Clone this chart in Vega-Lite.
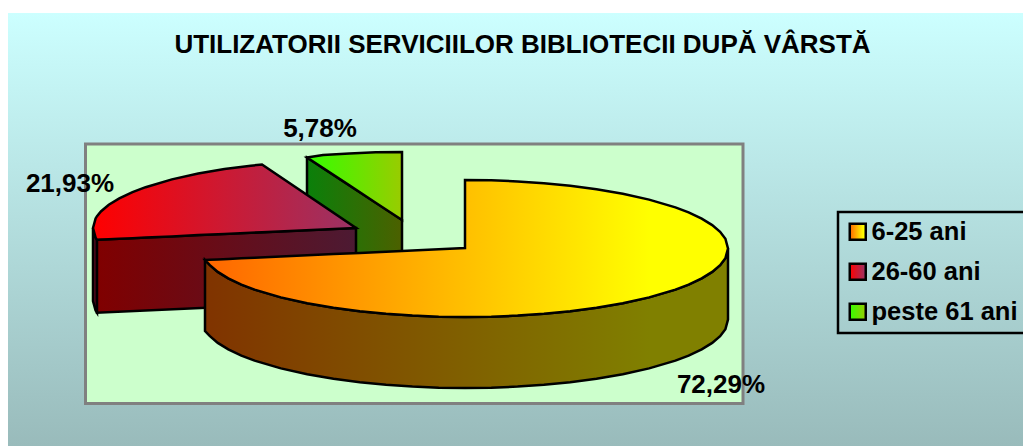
{
"$schema":"https://vega.github.io/schema/vega-lite/v6.json",
"width":1015,"height":433,"autosize":"none","padding":{"left":8,"top":13,"right":0,"bottom":0},
"background":"white",
"title":{"text":"UTILIZATORII SERVICIILOR BIBLIOTECII DUPĂ VÂRSTĂ","font":"Liberation Sans","fontWeight":"bold","fontSize":26,"color":"black","anchor":"middle","frame":"group","offset":-45,"dx":7},
"config":{"view":{"stroke":null,"fill":{"gradient":"linear","x1":0,"y1":0,"x2":0,"y2":1,"stops":[{"offset":0,"color":"#CCFFFF"},{"offset":1,"color":"#99BBBB"}]}},
"legend":{"strokeColor":"black","strokeWidth":2.5,"padding":7}},
"datasets":{
"panel":[{"x":85.5,"x2":743,"y":144,"y2":403.5}],
"slices":[{"slice":"6-25 ani","share":72.29,"label":"72,29%","lx":721,"ly":385},{"slice":"26-60 ani","share":21.93,"label":"21,93%","lx":70,"ly":184},{"slice":"peste 61 ani","share":5.78,"label":"5,78%","lx":320,"ly":129}],
"greenSide":[{"x":307,"y":157.5,"y2":230.5},{"x":402,"y":220,"y2":293}],
"greenTop":[{"slice":"peste 61 ani","x":307,"y":157.5,"y2":157.5},{"slice":"peste 61 ani","x":323.1,"y":155,"y2":168.1},{"slice":"peste 61 ani","x":349.4,"y":153.4,"y2":185.4},{"slice":"peste 61 ani","x":375.7,"y":152.3,"y2":202.7},{"slice":"peste 61 ani","x":402,"y":152,"y2":220}],
"redLeft":[{"x":93,"y":228,"y2":301},{"x":95.6,"y":237.6,"y2":310.6},{"x":97,"y":239.8,"y2":312.8}],
"redCut":[{"x":97,"y":239.8,"y2":312.8},{"x":356,"y":228,"y2":301}],
"redTop":[{"slice":"26-60 ani","x":93,"y":228,"y2":228},{"slice":"26-60 ani","x":95.6,"y":218.4,"y2":237.6},{"slice":"26-60 ani","x":97,"y":216.2,"y2":239.8},{"slice":"26-60 ani","x":100.9,"y":211.5,"y2":239.6},{"slice":"26-60 ani","x":108.8,"y":204.8,"y2":239.3},{"slice":"26-60 ani","x":119.3,"y":198.4,"y2":238.8},{"slice":"26-60 ani","x":132.5,"y":192.2,"y2":238.2},{"slice":"26-60 ani","x":145.6,"y":187.2,"y2":237.6},{"slice":"26-60 ani","x":171.9,"y":179.4,"y2":236.4},{"slice":"26-60 ani","x":198.2,"y":173.6,"y2":235.1},{"slice":"26-60 ani","x":224.5,"y":169.1,"y2":233.9},{"slice":"26-60 ani","x":250.8,"y":165.7,"y2":232.7},{"slice":"26-60 ani","x":262,"y":164.5,"y2":232.2},{"slice":"26-60 ani","x":356,"y":228,"y2":228}],
"mainSide":[{"x":205,"y":260,"y2":331},{"x":209.9,"y":265.2,"y2":336.2},{"x":217.8,"y":271.9,"y2":342.9},{"x":228.3,"y":278.4,"y2":349.4},{"x":241.4,"y":284.6,"y2":355.6},{"x":254.6,"y":289.6,"y2":360.6},{"x":280.9,"y":297.4,"y2":368.4},{"x":307.2,"y":303.3,"y2":374.3},{"x":333.5,"y":307.8,"y2":378.8},{"x":359.8,"y":311.3,"y2":382.3},{"x":386.1,"y":313.8,"y2":384.8},{"x":412.4,"y":315.6,"y2":386.6},{"x":438.7,"y":316.7,"y2":387.7},{"x":465,"y":317,"y2":388},{"x":491.3,"y":316.7,"y2":387.7},{"x":517.6,"y":315.6,"y2":386.6},{"x":543.9,"y":313.8,"y2":384.8},{"x":570.2,"y":311.3,"y2":382.3},{"x":596.5,"y":307.8,"y2":378.8},{"x":622.8,"y":303.3,"y2":374.3},{"x":649.1,"y":297.4,"y2":368.4},{"x":675.4,"y":289.6,"y2":360.6},{"x":688.6,"y":284.6,"y2":355.6},{"x":701.7,"y":278.4,"y2":349.4},{"x":712.2,"y":271.9,"y2":342.9},{"x":720.1,"y":265.2,"y2":336.2},{"x":725.4,"y":258.2,"y2":329.2},{"x":728,"y":248.5,"y2":319.5}],
"mainTop":[{"slice":"6-25 ani","x":205,"y":260,"y2":260},{"slice":"6-25 ani","x":209.9,"y":259.8,"y2":265.2},{"slice":"6-25 ani","x":217.8,"y":259.4,"y2":271.9},{"slice":"6-25 ani","x":228.3,"y":258.9,"y2":278.4},{"slice":"6-25 ani","x":241.4,"y":258.3,"y2":284.6},{"slice":"6-25 ani","x":254.6,"y":257.7,"y2":289.6},{"slice":"6-25 ani","x":280.9,"y":256.5,"y2":297.4},{"slice":"6-25 ani","x":307.2,"y":255.3,"y2":303.3},{"slice":"6-25 ani","x":333.5,"y":254.1,"y2":307.8},{"slice":"6-25 ani","x":359.8,"y":252.9,"y2":311.3},{"slice":"6-25 ani","x":386.1,"y":251.7,"y2":313.8},{"slice":"6-25 ani","x":412.4,"y":250.5,"y2":315.6},{"slice":"6-25 ani","x":438.7,"y":249.3,"y2":316.7},{"slice":"6-25 ani","x":465,"y":248,"y2":317},{"slice":"6-25 ani","x":465.01,"y":180,"y2":317},{"slice":"6-25 ani","x":491.3,"y":180.3,"y2":316.7},{"slice":"6-25 ani","x":517.6,"y":181.4,"y2":315.6},{"slice":"6-25 ani","x":543.9,"y":183.2,"y2":313.8},{"slice":"6-25 ani","x":570.2,"y":185.7,"y2":311.3},{"slice":"6-25 ani","x":596.5,"y":189.2,"y2":307.8},{"slice":"6-25 ani","x":622.8,"y":193.7,"y2":303.3},{"slice":"6-25 ani","x":649.1,"y":199.6,"y2":297.4},{"slice":"6-25 ani","x":675.4,"y":207.4,"y2":289.6},{"slice":"6-25 ani","x":688.6,"y":212.4,"y2":284.6},{"slice":"6-25 ani","x":701.7,"y":218.6,"y2":278.4},{"slice":"6-25 ani","x":712.2,"y":225.1,"y2":271.9},{"slice":"6-25 ani","x":720.1,"y":231.8,"y2":265.2},{"slice":"6-25 ani","x":725.4,"y":238.8,"y2":258.2},{"slice":"6-25 ani","x":728,"y":248.5,"y2":248.5}]
},
"encoding":{
"x":{"field":"x","type":"quantitative","scale":{"domain":[8,1023],"zero":false,"nice":false},"axis":null},
"y":{"field":"y","type":"quantitative","stack":null,"scale":{"domain":[13,446],"zero":false,"nice":false,"reverse":true},"axis":null},
"y2":{"field":"y2"}
},
"layer":[
{"data":{"name":"panel"},"mark":{"type":"rect","fill":"#CCFFCC","stroke":"#808080","strokeWidth":3},"encoding":{"x2":{"field":"x2"}}},
{"data":{"name":"greenSide"},"mark":{"type":"area","stroke":"black","strokeWidth":2.5,"fill":{"gradient":"linear","x1":0,"y1":0,"x2":1,"y2":0,"stops":[{"offset":0,"color":"#0A800A"},{"offset":1,"color":"#4C6000"}]}}},
{"data":{"name":"greenTop"},"mark":{"type":"area","stroke":"black","strokeWidth":2.5},"encoding":{"fill":{"field":"slice","type":"nominal"}}},
{"data":{"name":"redLeft"},"mark":{"type":"area","stroke":"black","strokeWidth":2.5,"fill":"#5A0A20"}},
{"data":{"name":"redCut"},"mark":{"type":"area","stroke":"black","strokeWidth":2.5,"fill":{"gradient":"linear","x1":0,"y1":0,"x2":1,"y2":0,"stops":[{"offset":0,"color":"#800000"},{"offset":1,"color":"#4C1A33"}]}}},
{"data":{"name":"redTop"},"mark":{"type":"area","stroke":"black","strokeWidth":2.5},"encoding":{"fill":{"field":"slice","type":"nominal"}}},
{"data":{"name":"mainSide"},"mark":{"type":"area","stroke":"black","strokeWidth":2.5,"fill":{"gradient":"linear","x1":0,"y1":0,"x2":1,"y2":0,"stops":[{"offset":0,"color":"#803300"},{"offset":0.85,"color":"#808000"},{"offset":1,"color":"#808000"}]}}},
{"data":{"name":"mainTop"},"mark":{"type":"area","stroke":"black","strokeWidth":2.5},"encoding":{"fill":{"field":"slice","type":"nominal","title":null,
"scale":{"domain":["6-25 ani","26-60 ani","peste 61 ani"],"range":[
{"expr":"{gradient:'linear',x1:0,y1:0,x2:1,y2:0,stops:[{offset:0,color:'#FF6600'},{offset:0.85,color:'#FFFF00'},{offset:1,color:'#FFFF00'}]}"},
{"expr":"{gradient:'linear',x1:0,y1:0,x2:1,y2:0,stops:[{offset:0,color:'#FF0000'},{offset:1,color:'#993366'}]}"},
{"expr":"{gradient:'linear',x1:0,y1:0,x2:1,y2:0,stops:[{offset:0,color:'#33FF00'},{offset:1,color:'#99CC00'}]}"}]},
"legend":{"orient":"none","legendX":830,"legendY":199,"title":null,"symbolType":"square","symbolSize":256,"symbolStrokeColor":"black","symbolStrokeWidth":2.5,"labelFont":"Liberation Sans","labelFontWeight":"bold","labelFontSize":25.5,"labelColor":"black","labelLimit":400,"labelOffset":1,"rowPadding":12,"padding":7}}}},
{"data":{"name":"slices"},"mark":{"type":"text","font":"Liberation Sans","fontWeight":"bold","fontSize":26,"color":"black","align":"center","baseline":"middle"},"encoding":{"x":{"field":"lx","type":"quantitative"},"y":{"field":"ly","type":"quantitative"},"y2":null,"text":{"field":"label"}}}
]
}
